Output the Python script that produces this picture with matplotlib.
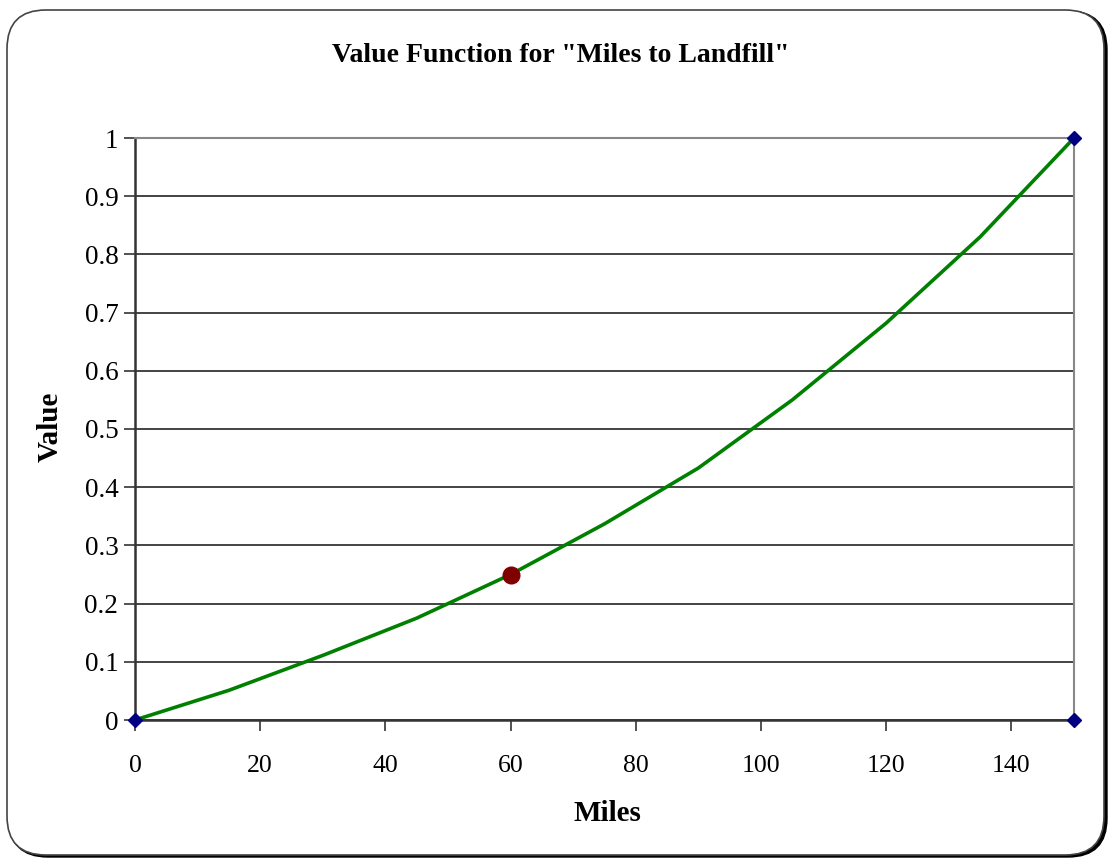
import numpy as np
import matplotlib
matplotlib.use('Agg')
import matplotlib.pyplot as plt
from matplotlib.patches import FancyBboxPatch

# data
miles = [0, 15, 30, 45, 60, 75, 90, 105, 120, 135, 150]
value = [0, 0.051, 0.111, 0.175, 0.25, 0.337, 0.433, 0.55, 0.682, 0.83, 1.0]
end_x = [0, 150, 150]
end_y = [0, 0, 1]
point_x = [60]
point_y = [0.25]

plt.rcParams['font.family'] = ['Liberation Serif', 'DejaVu Serif']

fig = plt.figure(figsize=(11.09, 8.59), dpi=100)
W, H = 1109, 859

# rounded chart frame with a small shadow
shadow = FancyBboxPatch((9 / W, 2 / H), 1098 / W, 846 / H,
                        boxstyle='round,pad=0,rounding_size=0.035',
                        transform=fig.transFigure, facecolor='black', edgecolor='black',
                        mutation_aspect=W / H, zorder=-3)
frame = FancyBboxPatch((7 / W, 4 / H), 1097 / W, 845 / H,
                       boxstyle='round,pad=0,rounding_size=0.035',
                       transform=fig.transFigure, facecolor='white', edgecolor='#444444',
                       linewidth=1.2, mutation_aspect=W / H, zorder=-2)
fig.patches.extend([shadow, frame])

ax = fig.add_axes([135 / W, 1 - 720 / H, (1074 - 135) / W, (720 - 138) / H])
ax.set_facecolor('none')

ax.plot(miles, value, color='#008000', linewidth=2.6, zorder=3)
ax.plot(end_x, end_y, linestyle='none', marker='D', markersize=7,
        color='#000080', zorder=4, clip_on=False)
ax.plot(point_x, point_y, linestyle='none', marker='o', markersize=12,
        color='#800000', zorder=5, clip_on=False)

ax.set_xlim(0, 150)
ax.set_ylim(0, 1)
ax.set_xticks(np.arange(0, 141, 20))
ax.set_yticks(np.arange(0, 1.01, 0.1))
ax.set_yticklabels(['0', '0.1', '0.2', '0.3', '0.4', '0.5', '0.6', '0.7', '0.8', '0.9', '1'])

ax.yaxis.grid(True, color='#111111', linewidth=1.1)
ax.set_axisbelow(True)

for s in ['top', 'right']:
    ax.spines[s].set_color('#888888')
    ax.spines[s].set_linewidth(1.5)
for s in ['left', 'bottom']:
    ax.spines[s].set_color('#333333')
    ax.spines[s].set_linewidth(1.8)

ax.tick_params(axis='both', direction='out', length=8, width=1.2, color='#333333')
ax.tick_params(axis='y', labelsize=19.5, pad=4)
ax.tick_params(axis='x', labelsize=18.5, pad=17)

ax.set_xlabel('Miles', fontsize=21, fontweight='bold')
ax.set_ylabel('Value', fontsize=21, fontweight='bold')
ax.xaxis.set_label_coords(0.503, -0.137)
ax.yaxis.set_label_coords(-0.0756, 0.503)
fig.text(561 / W, 1 - 55 / H, 'Value Function for "Miles to Landfill"',
         ha='center', va='center', fontsize=20, fontweight='bold')

fig.savefig('out.png', dpi=100)
